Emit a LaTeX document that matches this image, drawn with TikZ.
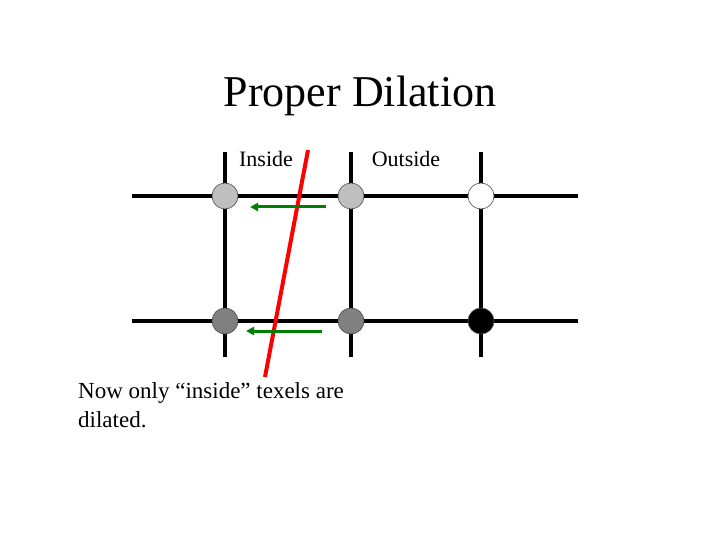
\documentclass[tikz,border=0pt]{standalone}
\usepackage{fontspec}
\setmainfont{Liberation Serif}
\usetikzlibrary{arrows.meta}
\begin{document}
\begin{tikzpicture}[x=1pt,y=-1pt,
  grid/.style={line width=3.5pt,black},
  texel/.style={circle,draw=black!70,line width=0.6pt,minimum size=26pt,inner sep=0pt},
  move/.style={line width=3pt,green!50!black,-{Triangle[length=8pt,width=8pt]}},
  lbl/.style={font=\fontsize{22}{28}\selectfont,inner sep=0pt}]
\useasboundingbox (0,0) rectangle (720,540);
\node[font=\fontsize{44}{48}\selectfont,inner sep=0pt] (title) at (360,96) {Proper Dilation};
\node[lbl] (inside) at (266,159) {Inside};
\node[lbl] (outside) at (406,159) {Outside};
\node[lbl,align=left,anchor=north west,font=\fontsize{23}{29}\selectfont] (note) at (78,382) {Now only “inside” texels are\\dilated.};
\coordinate (h1a) at (132,196); \coordinate (h1b) at (578,196);
\coordinate (h2a) at (132,321); \coordinate (h2b) at (578,321);
\coordinate (v1a) at (225,152); \coordinate (v1b) at (225,357);
\coordinate (v2a) at (351,152); \coordinate (v2b) at (351,357);
\coordinate (v3a) at (481,152); \coordinate (v3b) at (481,357);
\draw[grid] (h1a)--(h1b); \draw[grid] (h2a)--(h2b);
\draw[grid] (v1a)--(v1b); \draw[grid] (v2a)--(v2b); \draw[grid] (v3a)--(v3b);
\node[texel,fill=black!25] (a1) at (225,196) {};
\node[texel,fill=black!25] (a2) at (351,196) {};
\node[texel,fill=white] (a3) at (481,196) {};
\node[texel,fill=black!50] (b1) at (225,321) {};
\node[texel,fill=black!50] (b2) at (351,321) {};
\node[texel,fill=black] (b3) at (481,321) {};
\coordinate (r1) at (308,150); \coordinate (r2) at (265,377);
\draw[red,line width=4pt] (r1)--(r2);
\coordinate (g1a) at (326,207); \coordinate (g1b) at (250,207);
\coordinate (g2a) at (322,331); \coordinate (g2b) at (246,331);
\draw[move] (g1a)--(g1b); \draw[move] (g2a)--(g2b);
\end{tikzpicture}
\end{document}
